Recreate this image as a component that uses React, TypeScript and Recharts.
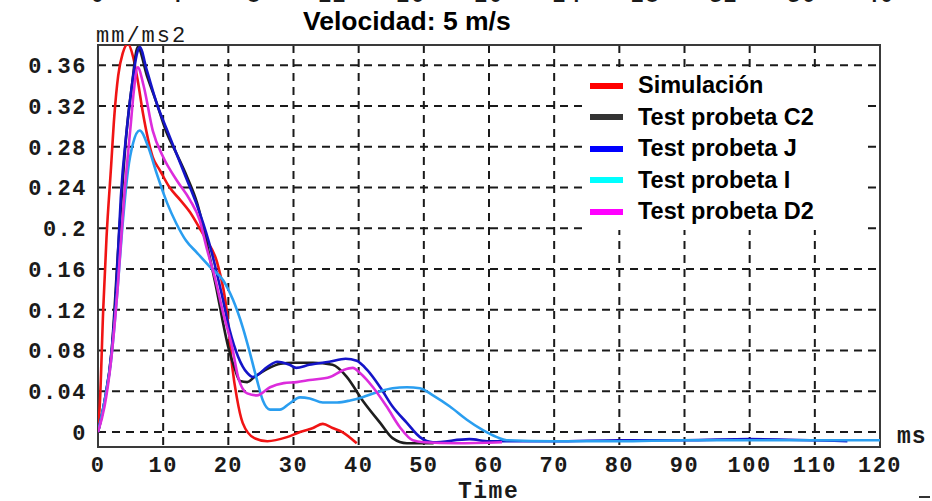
import React from 'react';
import { LineChart, Line, XAxis, YAxis, CartesianGrid, ReferenceArea } from 'recharts';

// Simulación (rojo)
const simT = [0, 0.3, 0.8, 1.3, 2, 2.5, 3.1, 3.8, 4.6, 5.4, 6.1, 6.9, 7.7, 8.4, 9.5, 11, 12.6, 14.1, 15.6, 16.5, 18.3, 19.8, 20.6, 21.3, 22.2, 24, 26, 29, 31, 33, 34.5, 36, 37.5, 39.7];
const simV = [0, 0.03, 0.12, 0.19, 0.26, 0.31, 0.35, 0.372, 0.381, 0.368, 0.345, 0.313, 0.287, 0.27, 0.257, 0.24, 0.228, 0.216, 0.2, 0.19, 0.166, 0.117, 0.064, 0.034, 0.009, -0.006, -0.009, -0.005, 0, 0.004, 0.008, 0.004, 0, -0.011];

// Test probeta C2 (negro)
const c2T = [0, 1, 2.1, 3.1, 4.4, 5.2, 6.1, 7.5, 9, 10.4, 12, 13.7, 15.2, 16.2, 17.2, 18.2, 19.1, 20, 21, 21.8, 22.9, 24, 26, 28, 30, 33, 36, 38.2, 40.6, 43.3, 45.2, 47.4, 51.5];
const c2V = [0, 0.03, 0.08, 0.18, 0.296, 0.34, 0.378, 0.35, 0.323, 0.296, 0.274, 0.25, 0.225, 0.2, 0.17, 0.14, 0.11, 0.083, 0.062, 0.05, 0.049, 0.054, 0.062, 0.067, 0.068, 0.068, 0.066, 0.054, 0.031, 0.009, -0.006, -0.011, -0.011];

// Test probeta J (azul)
const jT = [0, 1, 2.1, 2.7, 3.1, 3.5, 4.4, 5.2, 6, 6.4, 7.5, 9, 10.5, 12, 13.5, 15, 17, 19, 20.2, 21.5, 22.9, 23.8, 26, 27.5, 29.4, 30.4, 32.4, 35.5, 38, 39.7, 41.3, 43.3, 45.2, 47.4, 49.4, 51.4, 57, 60, 70, 80, 90, 100, 115];
const jV = [0, 0.03, 0.08, 0.13, 0.18, 0.23, 0.296, 0.34, 0.372, 0.378, 0.355, 0.323, 0.298, 0.274, 0.25, 0.226, 0.187, 0.135, 0.1, 0.074, 0.058, 0.054, 0.064, 0.069, 0.066, 0.063, 0.066, 0.069, 0.072, 0.07, 0.061, 0.044, 0.025, 0.009, -0.005, -0.01, -0.007, -0.009, -0.009, -0.008, -0.008, -0.007, -0.009];

// Test probeta I (celeste)
const iT = [0, 1, 2, 3, 3.7, 4.6, 5.4, 6.4, 7.7, 9, 10.6, 12, 13.5, 15.2, 17.2, 19.2, 20.7, 22.2, 23.3, 24.4, 25.3, 26.4, 27.9, 29.4, 31, 32.5, 34.5, 36.7, 38.7, 40.5, 42.8, 45.2, 47.4, 49.4, 51.4, 54, 56.6, 59, 61.2, 62.7, 70, 80, 90, 100, 110, 120];
const iV = [0, 0.03, 0.07, 0.14, 0.198, 0.257, 0.284, 0.296, 0.28, 0.254, 0.225, 0.205, 0.188, 0.176, 0.162, 0.149, 0.13, 0.103, 0.078, 0.051, 0.031, 0.022, 0.022, 0.028, 0.034, 0.033, 0.029, 0.029, 0.031, 0.034, 0.039, 0.043, 0.044, 0.043, 0.036, 0.025, 0.012, 0.002, -0.005, -0.008, -0.009, -0.009, -0.008, -0.008, -0.008, -0.008];

// Test probeta D2 (magenta)
const d2T = [0, 1, 2, 3, 4, 5, 5.5, 6.1, 7, 8.4, 10, 12.1, 14.1, 15.6, 16.7, 18, 19.2, 20.6, 21.5, 22.9, 24.4, 26.4, 28.5, 30.5, 32.5, 35.6, 37.7, 39.1, 40.2, 42.2, 44.3, 46.3, 48.3, 50, 55, 62];
const d2V = [0, 0.025, 0.07, 0.14, 0.23, 0.3, 0.335, 0.358, 0.34, 0.296, 0.27, 0.247, 0.228, 0.208, 0.18, 0.15, 0.117, 0.083, 0.054, 0.038, 0.036, 0.044, 0.048, 0.049, 0.051, 0.054, 0.061, 0.063, 0.058, 0.044, 0.025, 0.005, -0.008, -0.01, -0.011, -0.01];

const xTicks = [0, 10, 20, 30, 40, 50, 60, 70, 80, 90, 100, 110, 120];
const topTicks = [0, 4, 8, 12, 16, 20, 24, 28, 32, 36, 40];
const yTicks = [0, 0.04, 0.08, 0.12, 0.16, 0.2, 0.24, 0.28, 0.32, 0.36];
const Y_MIN = -0.0147;
const Y_MAX = 0.38;

const series = [
  { name: 'Simulación', t: simT, v: simV, stroke: '#f01414', swatch: '#ff0000' },
  { name: 'Test probeta C2', t: c2T, v: c2V, stroke: '#1e1e1e', swatch: '#333333' },
  { name: 'Test probeta J', t: jT, v: jV, stroke: '#1414c8', swatch: '#0000ff' },
  { name: 'Test probeta I', t: iT, v: iV, stroke: '#2a9ef0', swatch: '#00ffff' },
  { name: 'Test probeta D2', t: d2T, v: d2V, stroke: '#dc2cdc', swatch: '#ff00ff' },
];

const toPoints = (t: number[], v: number[]) => t.map((x, i) => ({ t: x, v: v[i] }));

// caja del gráfico
const PLOT_LEFT = 98;
const PLOT_RIGHT = 880;

const monoFont = '"Liberation Mono", "DejaVu Sans Mono", monospace';
const sansFont = '"Liberation Sans", Arial, sans-serif';

const tickStyle = { fill: '#1a1a1a', fontSize: 22, fontWeight: 'bold' as const, fontFamily: monoFont, letterSpacing: 1.5 };

const LegendBox = () => (
  <div style={{ position: 'absolute', left: 588, top: 68, width: 274, background: '#fff', padding: '2px 0 2px 2px' }}>
    {series.map((s) => (
      <div key={s.name} style={{ display: 'flex', alignItems: 'center', height: 31.5 }}>
        <span style={{ width: 33, height: 6, background: s.swatch, marginRight: 15, flexShrink: 0 }} />
        <span style={{ fontFamily: sansFont, fontWeight: 'bold', fontSize: 23.5, color: '#000', whiteSpace: 'nowrap' }}>
          {s.name}
        </span>
      </div>
    ))}
  </div>
);

// eje superior (0..40), cortado por el borde de la imagen
const TopLabels = () => (
  <>
    {topTicks.map((v) => (
      <div
        key={v}
        style={{
          position: 'absolute',
          left: PLOT_LEFT + (v / 40) * (PLOT_RIGHT - PLOT_LEFT) - 25,
          width: 50,
          top: -14,
          lineHeight: 1,
          textAlign: 'center',
          fontFamily: monoFont,
          fontWeight: 'bold',
          fontSize: 22,
          letterSpacing: 1.5,
          color: '#1a1a1a',
        }}
      >
        {v}
      </div>
    ))}
  </>
);

const App: React.FC = () => {
  return (
    <div style={{ position: 'absolute', left: 0, top: 0, width: 932, height: 501, background: '#fff', overflow: 'hidden' }}>
      <LineChart width={932} height={501} margin={{ top: 45, right: 932 - PLOT_RIGHT, bottom: 24, left: 0 }}>
        <CartesianGrid stroke="#1a1a1a" strokeWidth={2} strokeDasharray="8 6" />
        <XAxis
          dataKey="t"
          type="number"
          domain={[0, 120]}
          ticks={xTicks}
          interval={0}
          allowDataOverflow
          axisLine={false}
          tickLine={false}
          tickSize={0}
          tickMargin={9}
          height={30}
          tick={tickStyle}
        />
        <YAxis
          type="number"
          domain={[Y_MIN, Y_MAX]}
          ticks={yTicks}
          interval={0}
          allowDataOverflow
          axisLine={false}
          tickLine={false}
          tickSize={0}
          tickMargin={11}
          width={PLOT_LEFT}
          tick={tickStyle}
          tickFormatter={(v: number) => String(+v.toFixed(2))}
        />
        <ReferenceArea x1={0} x2={120} y1={Y_MIN} y2={Y_MAX} fill="none" stroke="#3a3a3a" strokeWidth={2} />
        {series.map((s) => (
          <Line
            key={s.name}
            data={toPoints(s.t, s.v)}
            dataKey="v"
            name={s.name}
            type="monotone"
            stroke={s.stroke}
            strokeWidth={2.6}
            dot={false}
            isAnimationActive={false}
          />
        ))}
      </LineChart>
      <TopLabels />
      <LegendBox />
      <div style={{ position: 'absolute', left: 303, top: 8, lineHeight: 1, fontFamily: sansFont, fontWeight: 'bold', fontSize: 26.5, color: '#000', whiteSpace: 'nowrap' }}>
        Velocidad: 5 m/s
      </div>
      <div style={{ position: 'absolute', left: 96, top: 24, fontFamily: monoFont, fontSize: 22, color: '#1a1a1a', letterSpacing: 2, whiteSpace: 'nowrap' }}>
        mm/ms2
      </div>
      <div style={{ position: 'absolute', left: 897, top: 424, fontFamily: monoFont, fontSize: 23, fontWeight: 'bold', color: '#1a1a1a', letterSpacing: 1 }}>
        ms
      </div>
      <div style={{ position: 'absolute', left: 458, top: 479, fontFamily: monoFont, fontSize: 23, fontWeight: 'bold', color: '#1a1a1a', letterSpacing: 1.5 }}>
        Time
      </div>
      <div style={{ position: 'absolute', left: 919, top: 496, width: 11, height: 2, background: '#333' }} />
    </div>
  );
};

export default App;
